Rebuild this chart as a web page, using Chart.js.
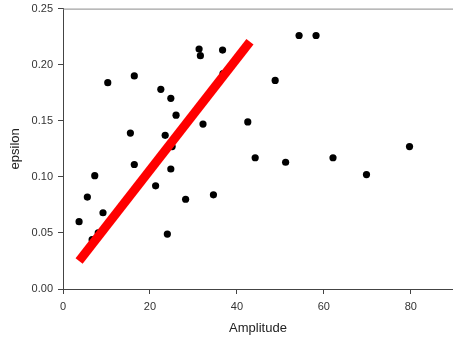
<!DOCTYPE html>
<html>
<head>
<meta charset="utf-8">
<script src="https://cdn.jsdelivr.net/npm/chart.js@4/dist/chart.umd.min.js"></script>
<style>
  html, body { margin: 0; padding: 0; background: #fff; overflow: hidden; }
  #wrap { width: 457px; height: 344px; margin-top: -3px; }
</style>
</head>
<body>
<div id="wrap"><canvas id="chart"></canvas></div>
<script>
// scatter points
const amplitude = [3.7, 5.6, 7.3, 9.2, 6.7, 8.1, 10.3, 16.4, 15.5, 16.4, 21.3, 22.5,
  23.5, 24.0, 24.8, 24.8, 25.1, 26.0, 28.2, 31.3, 31.6, 32.2, 34.6, 36.7, 36.8,
  42.5, 44.2, 48.8, 51.2, 54.3, 58.2, 62.1, 69.8, 79.7];
const epsilon = [0.060, 0.082, 0.101, 0.068, 0.044, 0.050, 0.184, 0.190, 0.139, 0.111, 0.092, 0.178,
  0.137, 0.049, 0.170, 0.107, 0.127, 0.155, 0.080, 0.214, 0.208, 0.147, 0.084, 0.213, 0.192,
  0.149, 0.117, 0.186, 0.113, 0.226, 0.226, 0.117, 0.102, 0.127];

// red trend line end points
const fitX = [3.7, 43.0];
const fitY = [0.025, 0.2205];

const xTicks = [0, 20, 40, 60, 80];
const yTicks = [0.00, 0.05, 0.10, 0.15, 0.20, 0.25];

const FONT = "'Liberation Sans', Arial, sans-serif";

// top frame line
const topBorder = {
  id: 'topBorder',
  afterDraw(chart) {
    const {ctx, chartArea} = chart;
    ctx.save();
    ctx.strokeStyle = '#8a8a8a';
    ctx.lineWidth = 1;
    ctx.beginPath();
    ctx.moveTo(chartArea.left, chartArea.top + 0.5);
    ctx.lineTo(chartArea.right, chartArea.top + 0.5);
    ctx.stroke();
    ctx.restore();
  }
};

new Chart(document.getElementById('chart'), {
  type: 'scatter',
  data: {
    datasets: [
      {
        type: 'line',
        label: 'fit',
        data: fitX.map((x, i) => ({x, y: fitY[i]})),
        borderColor: '#ff0000',
        borderWidth: 9,
        borderCapStyle: 'butt',
        pointRadius: 0,
        fill: false,
        order: 0
      },
      {
        label: 'data',
        data: amplitude.map((x, i) => ({x, y: epsilon[i]})),
        backgroundColor: '#000',
        borderColor: '#000',
        borderWidth: 0,
        pointRadius: 3.6,
        order: 1
      }
    ]
  },
  options: {
    responsive: true,
    maintainAspectRatio: false,
    animation: false,
    layout: { padding: { left: 0, right: 0, top: 5, bottom: 0 } },
    plugins: { legend: { display: false }, tooltip: { enabled: false } },
    scales: {
      x: {
        type: 'linear',
        min: 0,
        max: 89.7,
        afterBuildTicks: s => { s.ticks = xTicks.map(v => ({value: v})); },
        afterFit: s => { s.height = 52; },
        grid: { display: true, drawOnChartArea: false, drawTicks: true, tickLength: 5, color: '#444' },
        border: { display: true, color: '#444', width: 1 },
        ticks: { color: '#333', padding: 6, font: { family: FONT, size: 11 } },
        title: { display: true, text: 'Amplitude', color: '#222', padding: { top: 0, bottom: 5 },
                 font: { family: FONT, size: 13 } }
      },
      y: {
        type: 'linear',
        min: 0,
        max: 0.25,
        afterBuildTicks: s => { s.ticks = yTicks.map(v => ({value: v})); },
        afterFit: s => { s.width = 63; },
        grid: { display: true, drawOnChartArea: false, drawTicks: true, tickLength: 5, color: '#444' },
        border: { display: true, color: '#444', width: 1 },
        ticks: { color: '#333', padding: 5, font: { family: FONT, size: 11 },
                 callback: v => v.toFixed(2) },
        title: { display: true, text: 'epsilon', color: '#222', padding: { top: 8, bottom: 0 },
                 font: { family: FONT, size: 13 } }
      }
    }
  },
  plugins: [topBorder]
});
</script>
</body>
</html>
